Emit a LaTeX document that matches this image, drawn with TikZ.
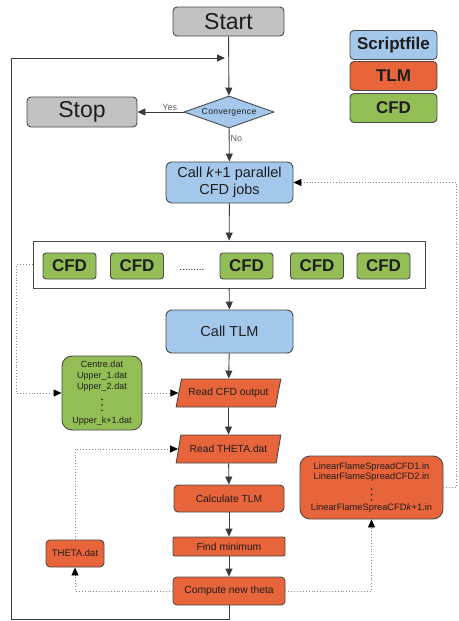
\documentclass[tikz,border=0pt]{standalone}
\usepackage{fontspec}
\setmainfont{Liberation Sans}
\usetikzlibrary{shapes.geometric,arrows.meta}
\definecolor{cgray}{HTML}{C2C2C2}
\definecolor{cblue}{HTML}{A3C8EC}
\definecolor{corange}{HTML}{E8643A}
\definecolor{cgreen}{HTML}{93BE55}
\definecolor{cborder}{HTML}{4A4A4A}
\definecolor{cline}{HTML}{3A3A3A}
\definecolor{cdot}{HTML}{8A8A8A}
\definecolor{ctext}{HTML}{1E1E1E}
\begin{document}
\begin{tikzpicture}[x=1pt,y=-1pt,
  box/.style={draw=cborder,line width=0.9pt,rounded corners=4pt,inner sep=1pt,text=ctext,align=center},
  graybox/.style={box,fill=cgray,font=\fontsize{23}{26}\selectfont},
  bluebox/.style={box,fill=cblue,rounded corners=6pt,font=\fontsize{14.5}{17}\selectfont},
  orbox/.style={box,fill=corange,font=\fontsize{10.3}{12}\selectfont},
  cfdbox/.style={box,fill=cgreen,font=\fontsize{17}{19}\selectfont\bfseries,minimum width=53pt,minimum height=26pt,rounded corners=3pt},
  legbox/.style={box,font=\fontsize{17}{19}\selectfont\bfseries,minimum width=87pt,minimum height=29pt},
  para/.style={draw=cborder,line width=0.9pt,fill=corange,trapezium,trapezium left angle=68,trapezium right angle=112,trapezium stretches=true,minimum width=105pt,minimum height=28pt,inner sep=1pt,text=ctext,font=\fontsize{10.3}{12}\selectfont},
  conn/.style={draw=cline,line width=0.9pt,-{Triangle[length=8pt,width=7pt]}},
  dconn/.style={draw=cdot,line width=0.9pt,dotted,-{Triangle[length=8pt,width=7pt,color=black]}},
  lbl/.style={text=cline!80,font=\fontsize{9}{10}\selectfont,inner sep=1pt},
  vdot/.style={fill=ctext}
]
\useasboundingbox (0,0) rectangle (458,621);
% legend
\node[legbox,fill=cblue] (lg1) at (393.5,45) {Scriptfile};
\node[legbox,fill=corange] (lg2) at (393.5,76) {TLM};
\node[legbox,fill=cgreen] (lg3) at (393.5,108) {CFD};
% main flow
\node[graybox,minimum width=111pt,minimum height=29pt] (start) at (228.5,21.5) {Start};
\node[draw=cborder,line width=0.9pt,fill=cblue,diamond,aspect=2.8,inner sep=0pt,minimum width=90pt,minimum height=32pt,text=ctext,font=\fontsize{8.6}{10}\selectfont\addfontfeatures{LetterSpace=4}] (conv) at (229,112) {Convergence};
\node[graybox,minimum width=110pt,minimum height=30pt] (stop) at (82,112) {Stop};
\node[bluebox,minimum width=127pt,minimum height=41pt] (call) at (229.5,182.5) {Call \textit{k}+1 parallel\\CFD jobs};
\node[draw=cborder,line width=0.9pt,fill=white,minimum width=392pt,minimum height=47pt] (big) at (229,264.5) {};
\node[cfdbox] (c1) at (69.5,266) {CFD};
\node[cfdbox] (c2) at (137,266) {CFD};
\node[cfdbox] (c3) at (246.5,266) {CFD};
\node[cfdbox] (c4) at (317,266) {CFD};
\node[cfdbox] (c5) at (383.5,266) {CFD};
\node[text=ctext,font=\fontsize{10}{12}\selectfont,inner sep=0pt] (dots) at (192,270) {.........};
\node[bluebox,minimum width=127pt,minimum height=43pt] (tlm) at (229.5,331.5) {Call TLM};
\node[para] (rcfd) at (228.5,393) {Read CFD output};
\node[para] (rtheta) at (228.5,449) {Read THETA.dat};
\node[orbox,minimum width=110pt,minimum height=27pt] (calc) at (229,498.5) {Calculate TLM};
\node[orbox,minimum width=112pt,minimum height=19pt,rounded corners=2pt] (fmin) at (229,546.5) {Find minimum};
\node[orbox,minimum width=112pt,minimum height=28pt] (cnt) at (229,591) {Compute new theta};
\node[orbox,minimum width=58pt,minimum height=27pt,font=\fontsize{9.5}{11}\selectfont] (thd) at (75,553.5) {THETA.dat};
\node[box,fill=cgreen,rounded corners=10pt,minimum width=80pt,minimum height=74pt,font=\fontsize{9}{11}\selectfont] (grn) at (102,393) {Centre.dat\\Upper\_1.dat\\Upper\_2.dat\\[23pt]Upper\_k+1.dat};
\fill[vdot] ([yshift=-6.5pt]grn.center) circle (0.9pt);
\fill[vdot] ([yshift=-12pt]grn.center) circle (0.9pt);
\fill[vdot] ([yshift=-17.5pt]grn.center) circle (0.9pt);
\node[box,fill=corange,rounded corners=10pt,minimum width=143pt,minimum height=63pt,font=\fontsize{9.3}{10.6}\selectfont] (lin) at (371.5,487.5) {LinearFlameSpreadCFD1.in\\LinearFlameSpreadCFD2.in\\[20.4pt]LinearFlameSpreaCFD\textit{k}+1.in};
\fill[vdot] ([yshift=-1.5pt]lin.center) circle (0.9pt);
\fill[vdot] ([yshift=-7pt]lin.center) circle (0.9pt);
\fill[vdot] ([yshift=-12.5pt]lin.center) circle (0.9pt);
% coordinates for loop
\coordinate (lb) at (11,619);
\coordinate (lt) at (11,58);
\coordinate (le) at (225,58);
% solid connectors
\draw[conn] (start) -- (conv);
\draw[conn] (conv) -- node[lbl,above,pos=0.3] {Yes} (stop);
\draw[conn] (conv) -- node[lbl,right,pos=0.3] {No} (call);
\draw[conn] (call) -- (big);
\draw[conn] (big) -- (tlm);
\draw[conn] (tlm) -- (rcfd);
\draw[conn] (rcfd) -- (rtheta);
\draw[conn] (rtheta) -- (calc);
\draw[conn] (calc) -- (fmin);
\draw[conn] (fmin) -- (cnt);
\draw[conn] (cnt.south) |- (lb) -- (lt) -- (le);
% dotted connectors
\draw[dconn] (big.west) -- ++(-16,0) |- (grn.west);
\draw[dconn] (grn.east) -- (rcfd.west);
\draw[dconn] (cnt.west) -| (thd.south);
\draw[dconn] (thd.north) |- (rtheta.west);
\draw[dconn] (cnt.east) -| (lin.south);
\draw[dconn] (lin.east) -- ++(13,0) |- (call.east);
\end{tikzpicture}
\end{document}
